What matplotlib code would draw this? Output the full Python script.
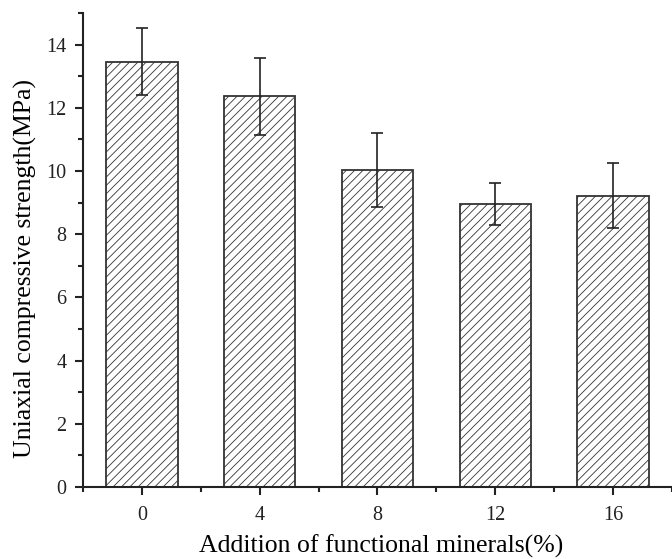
import matplotlib
matplotlib.use("Agg")
import matplotlib.pyplot as plt
from matplotlib.ticker import MultipleLocator

plt.rcParams['font.family'] = ['Liberation Serif', 'DejaVu Serif']
plt.rcParams['hatch.linewidth'] = 0.6
plt.rcParams['hatch.color'] = '#808080'

# Compressive strength vs. mineral addition
additions = [0, 4, 8, 12, 16]
strength = [13.46, 12.36, 10.04, 8.95, 9.22]
std_dev = [1.07, 1.21, 1.17, 0.67, 1.03]
x_ticks = [0, 4, 8, 12, 16]
y_ticks = [0, 2, 4, 6, 8, 10, 12, 14]

fig = plt.figure(figsize=(6.72, 5.59), dpi=100)
ax = fig.add_axes([0.1235, 0.1288, 0.8765, 0.8479])

ax.bar(additions, strength, width=2.42, color='white', edgecolor='#333333',
       linewidth=1.3, hatch='////', zorder=2)
ax.errorbar(additions, strength, yerr=std_dev, fmt='none', ecolor='#222222',
            elinewidth=1.2, capsize=4.5, capthick=1.2, zorder=3)

ax.set_xlim(-2, 18)
ax.set_ylim(0, 15)
ax.set_xticks(x_ticks)
ax.set_yticks(y_ticks)
ax.xaxis.set_minor_locator(MultipleLocator(2))
ax.yaxis.set_minor_locator(MultipleLocator(1))

for side in ('top', 'right'):
    ax.spines[side].set_visible(False)
for side in ('left', 'bottom'):
    ax.spines[side].set_linewidth(1.5)
    ax.spines[side].set_color('#222222')

ax.tick_params(which='major', direction='out', length=6, width=1.5,
               labelsize=14.5, colors='#222222', pad=6)
ax.tick_params(which='minor', direction='out', length=3.5, width=1.5,
               colors='#222222')
ax.tick_params(axis='x', pad=8)

ax.set_xlabel('Addition of functional minerals(%)', fontsize=18.5)
ax.set_ylabel('Uniaxial compressive strength(MPa)', fontsize=18.5)
ax.xaxis.set_label_coords(0.506, -0.101)
ax.yaxis.set_label_coords(-0.078, 0.462)

fig.savefig('out.png', dpi=100)
